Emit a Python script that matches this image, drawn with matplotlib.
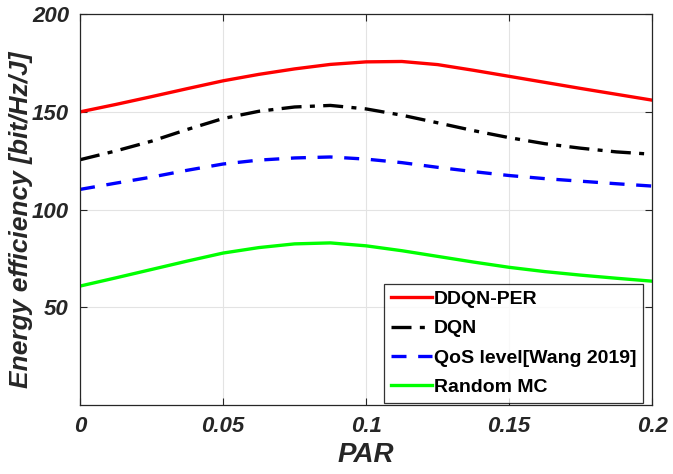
import numpy as np
import matplotlib.pyplot as plt

plt.rcParams['font.family'] = ['Liberation Sans', 'DejaVu Sans']

# ---- data ----
PAR = [0.0, 0.0125, 0.025, 0.0375, 0.05, 0.0625, 0.075, 0.0875, 0.1,
       0.1125, 0.125, 0.1375, 0.15, 0.1625, 0.175, 0.1875, 0.2]
DDQN_PER = [150.0, 153.8, 157.8, 161.9, 165.9, 169.2, 172.0, 174.3, 175.6,
            175.8, 174.2, 171.3, 168.2, 165.1, 162.0, 159.0, 156.0]
DQN = [125.5, 130.0, 135.0, 141.0, 146.6, 150.3, 152.5, 153.3, 151.5,
       148.3, 144.4, 140.4, 136.8, 133.7, 131.4, 129.5, 128.3]
QOS = [110.3, 113.5, 116.6, 120.1, 123.3, 125.3, 126.4, 126.9, 125.8,
       124.0, 121.6, 119.4, 117.4, 115.8, 114.5, 113.2, 112.0]
RANDOM_MC = [60.8, 65.0, 69.3, 73.6, 77.7, 80.5, 82.4, 82.9, 81.4,
             78.9, 76.0, 73.1, 70.4, 68.2, 66.4, 64.8, 63.3]

LABELS = ["DDQN-PER", "DQN", "QoS level[Wang 2019]", "Random MC"]
XTICKS = [0, 0.05, 0.1, 0.15, 0.2]
XTICKLABELS = ["0", "0.05", "0.1", "0.15", "0.2"]
YTICKS = [50, 100, 150, 200]

fig = plt.figure(figsize=(6.73, 4.74), dpi=100)
ax = fig.add_axes([0.119, 0.146, 0.850, 0.824])

ax.plot(PAR, DDQN_PER, color="#ff0000", lw=2.4, label=LABELS[0])
ax.plot(PAR, DQN, color="black", lw=2.4, dashes=(6, 2.5, 1.5, 2.5), label=LABELS[1])
ax.plot(PAR, QOS, color="#0000ff", lw=2.4, dashes=(4.5, 3.5), label=LABELS[2])
ax.plot(PAR, RANDOM_MC, color="#00ff00", lw=2.4, label=LABELS[3])

ax.set_xlim(0, 0.2)
ax.set_ylim(0, 200)
ax.set_xticks(XTICKS)
ax.set_xticklabels(XTICKLABELS)
ax.set_yticks(YTICKS)
ax.grid(True, color="#e3e3e3", lw=0.8)
ax.set_axisbelow(True)
ax.tick_params(direction="in", top=True, right=True, length=5, width=0.8,
               labelsize=16, colors="#262626", pad=8)
for lab in ax.get_xticklabels() + ax.get_yticklabels():
    lab.set_fontweight("bold")
    lab.set_fontstyle("italic")
for s in ax.spines.values():
    s.set_color("#262626")
    s.set_linewidth(0.9)

ax.set_xlabel("PAR", fontsize=20, fontweight="bold", fontstyle="italic",
              color="#262626", labelpad=4)
ax.set_ylabel("Energy efficiency [bit/Hz/J]", fontsize=19, fontweight="bold",
              fontstyle="italic", color="#262626")
ax.yaxis.set_label_coords(-0.082, 0.475)

leg = ax.legend(loc="lower right", bbox_to_anchor=(0.984, 0.005), borderaxespad=0,
                fontsize=14, frameon=True, fancybox=False,
                edgecolor="black", borderpad=0.35, labelspacing=0.6,
                handlelength=2.1, handletextpad=0.1)
leg.get_frame().set_linewidth(0.9)
for t in leg.get_texts():
    t.set_fontweight("bold")

fig.savefig("out.png", dpi=100)
